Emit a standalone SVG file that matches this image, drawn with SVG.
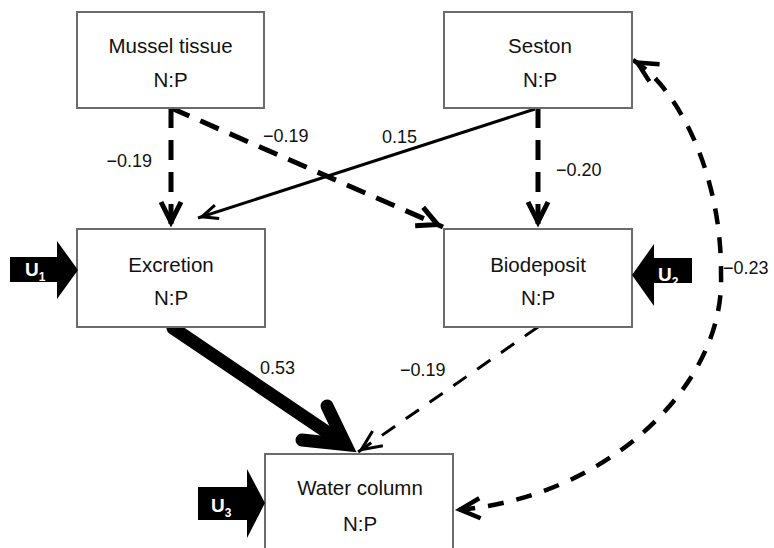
<svg xmlns="http://www.w3.org/2000/svg" width="774" height="548" viewBox="0 0 774 548">
<style>
.box{fill:#fff;stroke:#6b6b6b;stroke-width:2}
.nt{font-family:"Liberation Sans",Arial,sans-serif;font-size:20.5px;fill:#111;text-anchor:middle}
.lb{font-family:"Liberation Sans",Arial,sans-serif;font-size:18px;fill:#111}
.dk{fill:none;stroke:#000;stroke-width:5;stroke-dasharray:20 12}
.dt{fill:none;stroke:#000;stroke-width:3;stroke-dasharray:16 13}
.dc{fill:none;stroke:#000;stroke-width:4.5;stroke-dasharray:16 13}
.sl{fill:none;stroke:#000;stroke-width:3}
.u{fill:#000}
.ut{font-family:"Liberation Sans",Arial,sans-serif;font-weight:bold;fill:#fff}
</style>
<defs>
<marker id="mk" markerUnits="userSpaceOnUse" orient="auto" refX="0" refY="0" markerWidth="30" markerHeight="30" style="overflow:visible">
<path d="M-26,-10 L-6,0 L-26,10" fill="none" stroke="#000" stroke-width="5"/>
</marker>
<marker id="mt" markerUnits="userSpaceOnUse" orient="auto" refX="0" refY="0" markerWidth="30" markerHeight="30" style="overflow:visible">
<path d="M-24,-9 L-4,0 L-24,9" fill="none" stroke="#000" stroke-width="3"/>
</marker>
<marker id="mc" markerUnits="userSpaceOnUse" orient="auto-start-reverse" refX="0" refY="0" markerWidth="30" markerHeight="30" style="overflow:visible">
<path d="M-25,-10 L-5,0 L-25,10" fill="none" stroke="#000" stroke-width="4.5"/>
</marker>
<marker id="ms" markerUnits="userSpaceOnUse" orient="auto" refX="0" refY="0" markerWidth="30" markerHeight="30" style="overflow:visible">
<path d="M-20,-7 L-4,0 L-20,7" fill="none" stroke="#000" stroke-width="3"/>
</marker>
</defs>
<rect width="774" height="548" fill="#fff"/>
<g id="connectors">
<line class="dk" x1="171" y1="108" x2="171" y2="228" marker-end="url(#mk)"/>
<line class="dk" x1="171" y1="108" x2="443" y2="227" marker-end="url(#mk)"/>
<line class="dk" x1="538" y1="108" x2="538" y2="228" marker-end="url(#mk)"/>
<line class="sl" x1="535" y1="109" x2="198" y2="218" marker-end="url(#ms)"/>
<line class="dt" x1="538" y1="327" x2="358" y2="452" marker-end="url(#mt)"/>
<path class="dc" d="M633,60 C675,85 722,170 721,275 C725,390 600,500 455,510" marker-start="url(#mc)" marker-end="url(#mc)"/>
<line x1="173" y1="328" x2="343" y2="443" stroke="#000" stroke-width="13" stroke-linecap="round"/>
<polyline points="302,440 345.6,444.6 327,406" fill="none" stroke="#000" stroke-width="13" stroke-linecap="round" stroke-linejoin="miter"/>
<text class="lb" x="152" y="167" text-anchor="end">−0.19</text>
<text class="lb" x="263" y="142">−0.19</text>
<text class="lb" x="382" y="143">0.15</text>
<text class="lb" x="556" y="176">−0.20</text>
<text class="lb" x="260" y="374">0.53</text>
<text class="lb" x="400" y="376">−0.19</text>
<text class="lb" x="723" y="274">−0.23</text>
</g>
<g id="mussel">
<rect class="box" x="77" y="12" width="187" height="96"/>
<text class="nt" x="170.5" y="53">Mussel tissue</text>
<text class="nt" x="170.5" y="87">N:P</text>
</g>
<g id="seston">
<rect class="box" x="444" y="12" width="188" height="96"/>
<text class="nt" x="540" y="53">Seston</text>
<text class="nt" x="540" y="87">N:P</text>
</g>
<g id="excretion">
<rect class="box" x="77" y="229" width="188" height="98"/>
<text class="nt" x="171" y="272">Excretion</text>
<text class="nt" x="171" y="305">N:P</text>
</g>
<g id="biodeposit">
<rect class="box" x="444" y="229" width="188" height="98"/>
<text class="nt" x="538" y="272">Biodeposit</text>
<text class="nt" x="538" y="305">N:P</text>
</g>
<g id="water">
<rect class="box" x="265" y="454" width="188" height="110"/>
<text class="nt" x="360" y="495">Water column</text>
<text class="nt" x="360" y="531">N:P</text>
</g>
<g id="u1">
<polygon class="u" points="10,257 57,257 57,241 78,270 57,299 57,282 10,282"/>
<text class="ut" x="25" y="276" font-size="19">U<tspan font-size="12" dy="5">1</tspan></text>
</g>
<g id="u2">
<polygon class="u" points="692,258 654,258 654,244 632,275 654,306 654,283 692,283"/>
<text class="ut" x="658" y="281" font-size="19">U<tspan font-size="12" dy="5">2</tspan></text>
</g>
<g id="u3">
<polygon class="u" points="198,487 247,487 247,469 265,503 247,538 247,520 198,520"/>
<text class="ut" x="211" y="512" font-size="19">U<tspan font-size="12" dy="5">3</tspan></text>
</g>
</svg>
